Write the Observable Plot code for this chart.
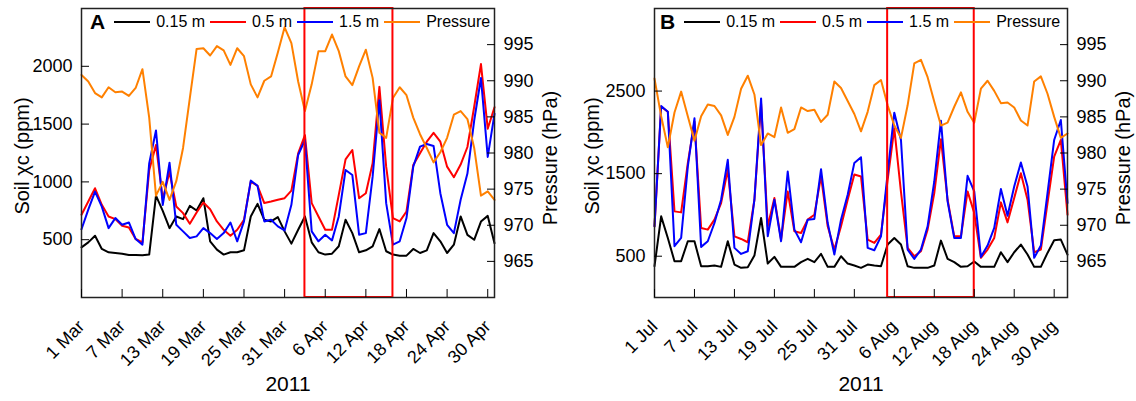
<!DOCTYPE html>
<html><head><meta charset="utf-8">
<script src="https://cdn.jsdelivr.net/npm/d3@7"></script>
<script src="https://cdn.jsdelivr.net/npm/@observablehq/plot@0.6"></script>
<style>
body{margin:0;background:#fff;font-family:Arial,"Liberation Sans",sans-serif;}
#wrap{display:flex;width:1136px;height:401px;overflow:hidden;}
.panel{position:relative;width:568px;height:401px;}
.legend{position:absolute;top:12px;display:flex;align-items:center;font-size:16px;line-height:20px;color:#000;white-space:nowrap;}
.legend .tag{font-weight:bold;font-size:21px;margin-right:9px;}
.legend .sw{width:36px;height:2px;margin-right:6px;}
.legend .lab{margin-right:5px;}
</style></head><body><div id="wrap"></div>
<script>
// ---------- data ----------
const seriesNames = ["0.15 m", "0.5 m", "1.5 m", "Pressure"];
const seriesColors = ["#000000", "#ff0000", "#0000ff", "#ff8000"];
const pressureDomain = [960, 1000];
const pressureTicks = [965, 970, 975, 980, 985, 990, 995];

// Panel A: 1 Mar - 1 May 2011 (daily)
const startA = "2011-03-01";
const endA = "2011-05-01";
const tickLabelsA = ["1 Mar","7 Mar","13 Mar","19 Mar","25 Mar","31 Mar","6 Apr","12 Apr","18 Apr","24 Apr","30 Apr"];
const leftTicksA = [500, 1000, 1500, 2000];
const leftDomainA = [0, 2500];
const highlightA = {start: "2011-04-03", end: "2011-04-16"};
const black15A = [434,477,534,420,391,385,379,368,368,365,371,882,750,600,701,678,793,753,859,486,414,371,391,391,408,701,810,672,658,695,572,466,586,701,477,391,371,379,443,672,557,391,408,443,592,400,371,362,362,420,385,408,557,486,385,457,701,542,499,657,706,470];
const red05A = [716,830,945,802,701,678,621,606,506,477,1100,1320,850,1085,787,730,638,735,822,764,658,586,535,586,672,1003,966,817,830,845,859,925,1247,1405,816,701,586,586,888,1195,1276,859,902,1161,1822,1132,687,658,744,1146,1247,1348,1425,1348,1132,1040,1150,1302,1650,2019,1460,1646];
const blue15A = [590,760,916,786,600,687,629,649,506,457,1160,1445,800,1166,629,572,514,529,600,557,506,557,649,486,658,1011,966,658,672,615,580,802,1233,1362,572,486,543,494,701,1103,1060,543,557,1045,1707,816,457,486,687,1132,1305,1328,1311,902,629,557,845,1072,1531,1899,1216,1589];
const pressureA = [990.8,989.9,988.3,987.7,989.1,988.4,988.5,987.9,989.0,991.6,984.9,974.1,976.0,973.5,976.1,980.7,987.6,994.4,994.5,993.5,994.8,994.2,992.2,994.5,993.4,989.5,987.7,990.0,990.6,993.9,997.4,995.2,989.9,985.8,989.5,994.1,994.1,996.4,994.1,990.6,989.4,992.0,994.3,990.4,982.8,982.1,987.6,989.1,988.0,984.9,982.6,980.7,978.7,980.1,982.1,985.3,985.8,984.7,980.7,974.1,974.7,973.5];

// Panel B: 1 Jul - 1 Sep 2011 (daily)
const startB = "2011-07-01";
const endB = "2011-09-01";
const tickLabelsB = ["1 Jul","7 Jul","13 Jul","19 Jul","25 Jul","31 Jul","6 Aug","12 Aug","18 Aug","24 Aug","30 Aug"];
const leftTicksB = [500, 1500, 2500];
const leftDomainB = [0, 3500];
const highlightB = {start: "2011-08-05", end: "2011-08-18"};
const black15B = [379,983,721,440,440,681,681,379,379,387,371,681,399,359,367,508,963,411,492,371,371,371,428,468,428,528,371,371,500,411,387,359,399,387,379,641,721,641,379,359,359,359,387,689,468,428,371,379,436,371,371,371,548,428,548,641,520,371,371,540,693,701,520];
const red05B = [862,2311,2250,1043,1031,1627,2130,842,822,943,1144,1546,741,709,669,1184,2350,862,1204,701,1285,802,782,943,1003,1466,862,580,862,1184,1490,1466,701,661,762,1425,2049,1280,601,500,560,822,1265,1917,1184,741,741,1285,1023,480,580,721,1152,910,1204,1506,1184,548,580,1144,1707,1908,1003];
const blue15B = [862,2319,2250,621,721,1586,2170,613,681,902,1184,1667,601,528,560,1184,2411,741,1184,681,1526,822,669,943,951,1554,902,520,943,1244,1630,1699,601,572,741,1506,2238,1908,580,468,580,862,1405,2142,1164,721,721,1474,1285,492,629,842,1313,991,1345,1635,1345,480,629,1265,1908,2150,1144];
const pressureB = [990.3,985.1,980.8,985.6,988.5,985.1,981.7,985.1,986.7,986.5,985.2,982.5,985.0,988.9,990.7,988.1,981.1,982.7,982.2,986.3,982.8,983.3,986.3,985.8,986.0,984.3,985.3,989.9,989.0,987.2,985.4,983.0,985.7,989.4,990.1,986.6,983.8,982.1,986.6,992.4,992.9,990.5,987.1,983.8,984.2,986.4,988.4,985.7,984.2,988.9,990.0,988.6,986.9,987.0,986.3,984.5,983.8,989.9,990.6,988.2,985.0,982.1,982.7];

// ---------- drawing ----------
const font = 'Arial, "Liberation Sans", sans-serif';
const parse = d3.utcParse("%Y-%m-%d");

function makePanel(cfg) {
  const start = parse(cfg.start), end = parse(cfg.end);
  const dates = d3.range(cfg.series[0].length).map(i => d3.utcDay.offset(start, i));
  const toY = d3.scaleLinear().domain(pressureDomain).range(cfg.leftDomain);
  const tickDates = cfg.tickLabels.map((_, i) => d3.utcDay.offset(start, 6 * i));
  const tickLabelOf = new Map(tickDates.map((d, i) => [+d, cfg.tickLabels[i]]));
  const rows = [];
  cfg.series.forEach((vals, s) => vals.forEach((v, i) => rows.push({
    series: seriesNames[s], date: dates[i], y: s === 3 ? toY(v) : v
  })));
  const hl = [{start: parse(cfg.highlight.start), end: parse(cfg.highlight.end)}];
  const svg = Plot.plot({
    width: 568, height: 401,
    marginLeft: cfg.ml, marginRight: cfg.mr, marginTop: 8, marginBottom: 104,
    style: {fontFamily: font, fontSize: "16px", color: "#000", background: "#fff", overflow: "visible"},
    x: {type: "utc", domain: [start, end]},
    y: {domain: cfg.leftDomain},
    color: {domain: seriesNames, range: seriesColors},
    marks: [
      Plot.line(rows, {x: "date", y: "y", z: "series", stroke: "series", strokeWidth: 2}),
      Plot.rect(hl, {x1: "start", x2: "end", fill: "none", stroke: "#ff0000", strokeWidth: 2}),
      Plot.frame({stroke: "#222", strokeWidth: 1.5}),
      Plot.axisY({ticks: cfg.leftTicks, tickSize: -8, tickPadding: 17, fontSize: 18, label: null, tickFormat: d => String(d)}),
      Plot.axisY({anchor: "right", ticks: pressureTicks.map(p => toY(p)), tickSize: -8, tickPadding: 17, fontSize: 18, label: null, tickFormat: d => String(Math.round(toY.invert(d)))}),
      Plot.axisX({ticks: tickDates, tickSize: -8, tickPadding: 34, tickRotate: -45, fontSize: 18, label: null, tickFormat: d => tickLabelOf.get(+d)}),
      Plot.text(["Soil χc (ppm)"], {text: d => d, frameAnchor: "left", textAnchor: "middle", dx: cfg.leftTitleDx, dy: 3, rotate: -90, fontSize: 20}),
      Plot.text(["Pressure (hPa)"], {text: d => d, frameAnchor: "right", textAnchor: "middle", dx: 56, dy: 5, rotate: -90, fontSize: 20}),
      Plot.text(["2011"], {text: d => d, frameAnchor: "bottom", dy: 93, fontSize: 21})
    ]
  });
  const div = document.createElement("div");
  div.className = "panel";
  div.appendChild(svg);
  const lg = document.createElement("div");
  lg.className = "legend";
  lg.style.left = cfg.legendLeft + "px";
  let html = `<span class="tag">${cfg.tag}</span>`;
  seriesNames.forEach((n, i) => {
    html += `<span class="sw" style="background:${seriesColors[i]}"></span><span class="lab">${n}</span>`;
  });
  lg.innerHTML = html;
  div.appendChild(lg);
  document.getElementById("wrap").appendChild(div);
}

makePanel({tag: "A", start: startA, end: endA, tickLabels: tickLabelsA, leftTicks: leftTicksA, leftDomain: leftDomainA,
  highlight: highlightA, series: [black15A, red05A, blue15A, pressureA], ml: 81, mr: 74, leftTitleDx: -59, legendLeft: 90});
makePanel({tag: "B", start: startB, end: endB, tickLabels: tickLabelsB, leftTicks: leftTicksB, leftDomain: leftDomainB,
  highlight: highlightB, series: [black15B, red05B, blue15B, pressureB], ml: 86, mr: 69, leftTitleDx: -62, legendLeft: 92});
</script>
</body></html>
